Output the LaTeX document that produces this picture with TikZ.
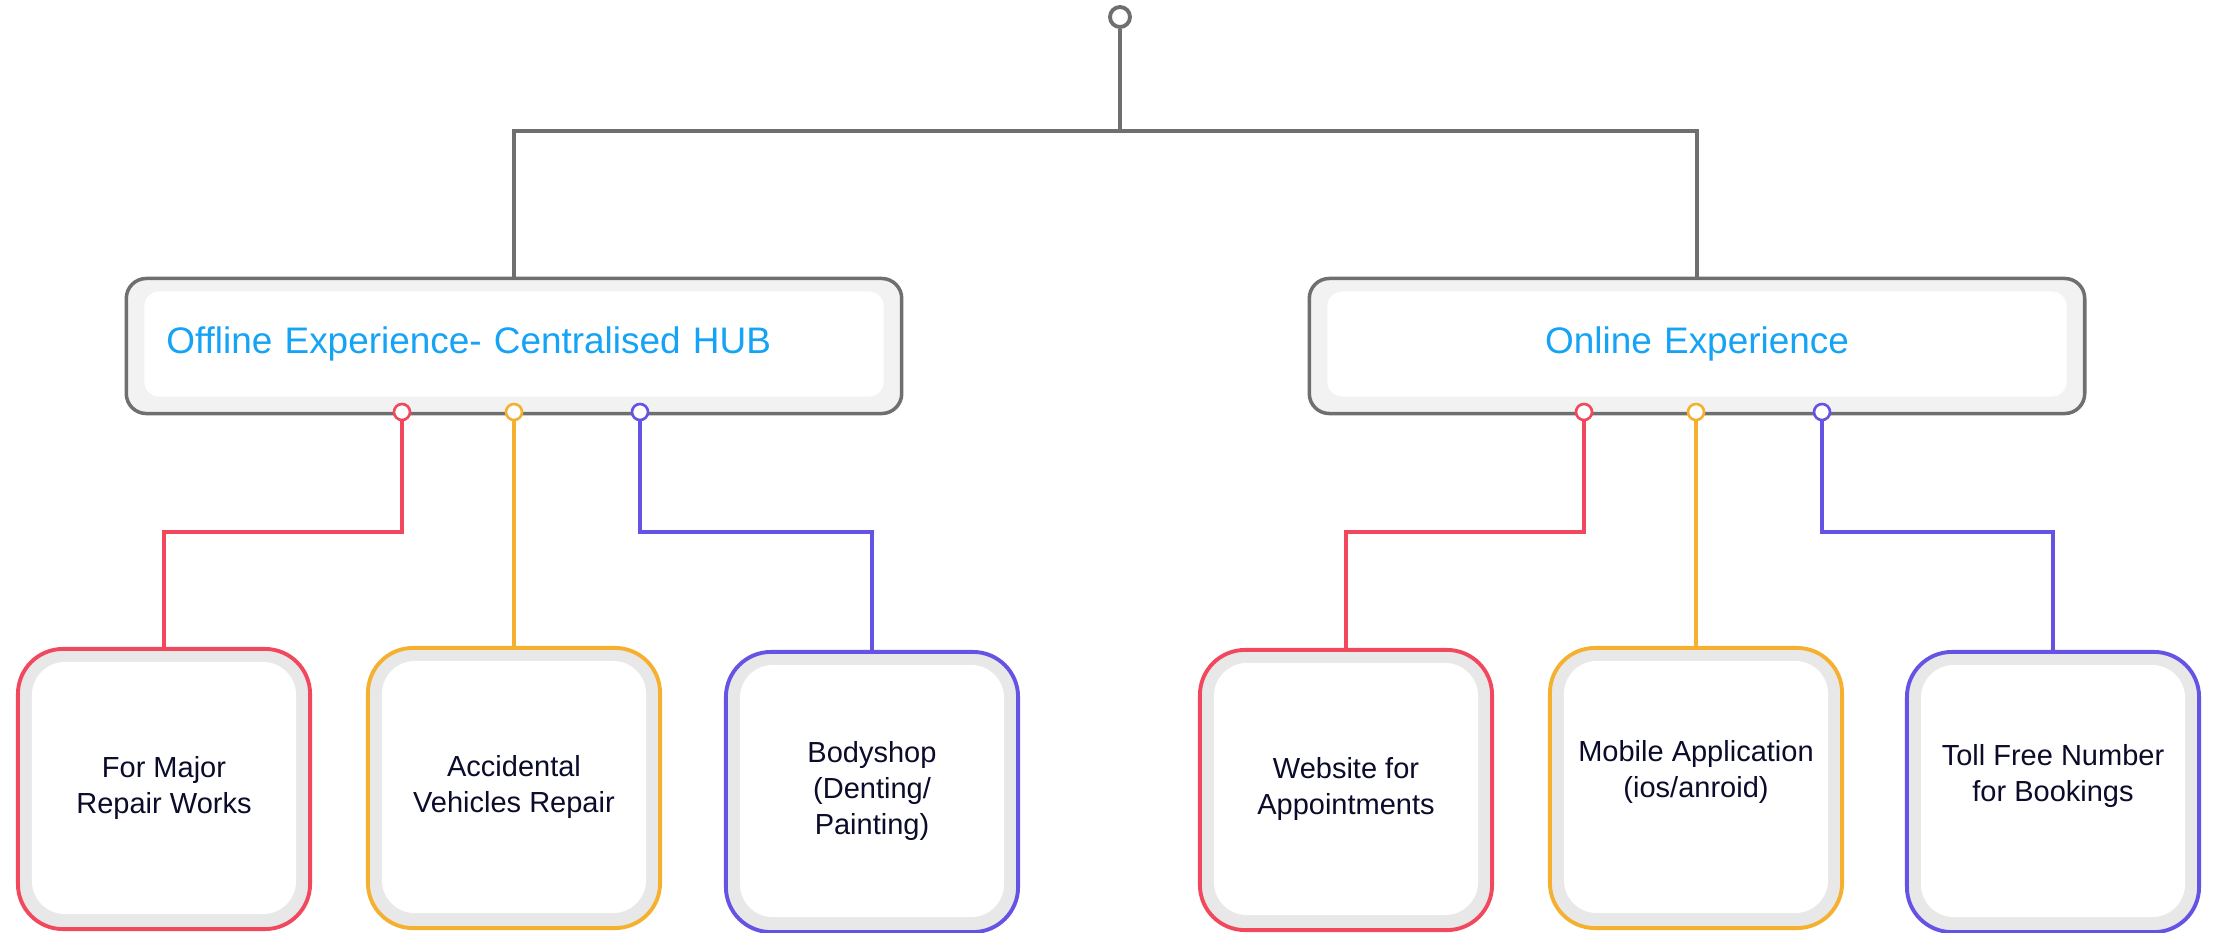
\documentclass[tikz,border=0pt]{standalone}
\usepackage{fontspec}
\setmainfont{Liberation Sans}
\definecolor{stem}{HTML}{6F6F6F}
\definecolor{hubblue}{HTML}{14A3F5}
\definecolor{ink}{HTML}{0B0B2A}
\definecolor{rosered}{HTML}{F2485E}
\definecolor{amber}{HTML}{F6B030}
\definecolor{iris}{HTML}{6553E6}
\begin{document}
\begin{tikzpicture}[x=0.01cm, y=-0.01cm,
trunk/.style={draw=stem, line width=1.1pt},
link/.style={line width=1.05pt},
hub/.style={draw=stem, line width=1pt, rounded corners=0.2cm, fill=black!5,
  minimum width=7.75cm, minimum height=1.35cm},
hubin/.style={fill=white, rounded corners=0.15cm, inner sep=0.22cm, text width=6.95cm,
  minimum height=1.05cm, text=hubblue, font=\fontsize{10.5}{12.6}\selectfont},
leaf/.style={line width=1.1pt, rounded corners=0.45cm, fill=black!9,
  minimum width=2.92cm, minimum height=2.8cm},
leafin/.style={fill=white, rounded corners=0.33cm, minimum width=2.64cm, minimum height=2.52cm,
  text=ink, align=center, font=\fontsize{8.25}{10.2}\selectfont},
knob/.style={circle, draw, fill=white, line width=0.75pt, minimum size=0.16cm, inner sep=0pt}]
\useasboundingbox (0,0) rectangle (2214,933);

% root and the two hubs
\node[knob, draw=stem, line width=1.1pt, minimum size=0.2cm] (root) at (1120,17) {};
\coordinate (split) at (1120,131);
\node[hub] (offline) at (514,346) {};
\node[hubin, align=left] (offlinein) at (514,344) {Offline Experience- Centralised HUB};
\node[hub] (online) at (1697,346) {};
\node[hubin, align=center] (onlinein) at (1697,344) {Online Experience};
\draw[trunk] (root) -- (split);
\draw[trunk] (split) -| (offline);
\draw[trunk] (split) -| (online);

% offline leaves
\node[leaf, draw=rosered] (major) at (164,789) {};
\node[leafin] (majorin) at (164,788) {For Major\\Repair Works};
\node[leaf, draw=amber] (accident) at (514,788) {};
\node[leafin] (accidentin) at (514,787) {Accidental\\Vehicles Repair};
\node[leaf, draw=iris] (bodyshop) at (872,792) {};
\node[leafin] (bodyshopin) at (872,791) {Bodyshop\\(Denting/\\Painting)};

% online leaves
\node[leaf, draw=rosered] (website) at (1346,790) {};
\node[leafin] (websitein) at (1346,789) {Website for\\Appointments};
\node[leaf, draw=amber] (mobile) at (1696,788) {};
\node[leafin] (mobilein) at (1696,787) {Mobile Application\\(ios/anroid)\\\mbox{}};
\node[leaf, draw=iris] (tollfree) at (2053,792) {};
\node[leafin] (tollfreein) at (2053,791) {Toll Free Number\\for Bookings\\\mbox{}};

% ports under the hubs
\node[knob, draw=rosered] (off1) at (402,412) {};
\node[knob, draw=amber] (off2) at (514,412) {};
\node[knob, draw=iris] (off3) at (640,412) {};
\node[knob, draw=rosered] (on1) at (1584,412) {};
\node[knob, draw=amber] (on2) at (1696,412) {};
\node[knob, draw=iris] (on3) at (1822,412) {};

\draw[link, rosered] (off1) -- (off1 |- 0,532) -| (major);
\draw[link, amber] (off2) -- (accident);
\draw[link, iris] (off3) -- (off3 |- 0,532) -| (bodyshop);
\draw[link, rosered] (on1) -- (on1 |- 0,532) -| (website);
\draw[link, amber] (on2) -- (mobile);
\draw[link, iris] (on3) -- (on3 |- 0,532) -| (tollfree);
\end{tikzpicture}
\end{document}
